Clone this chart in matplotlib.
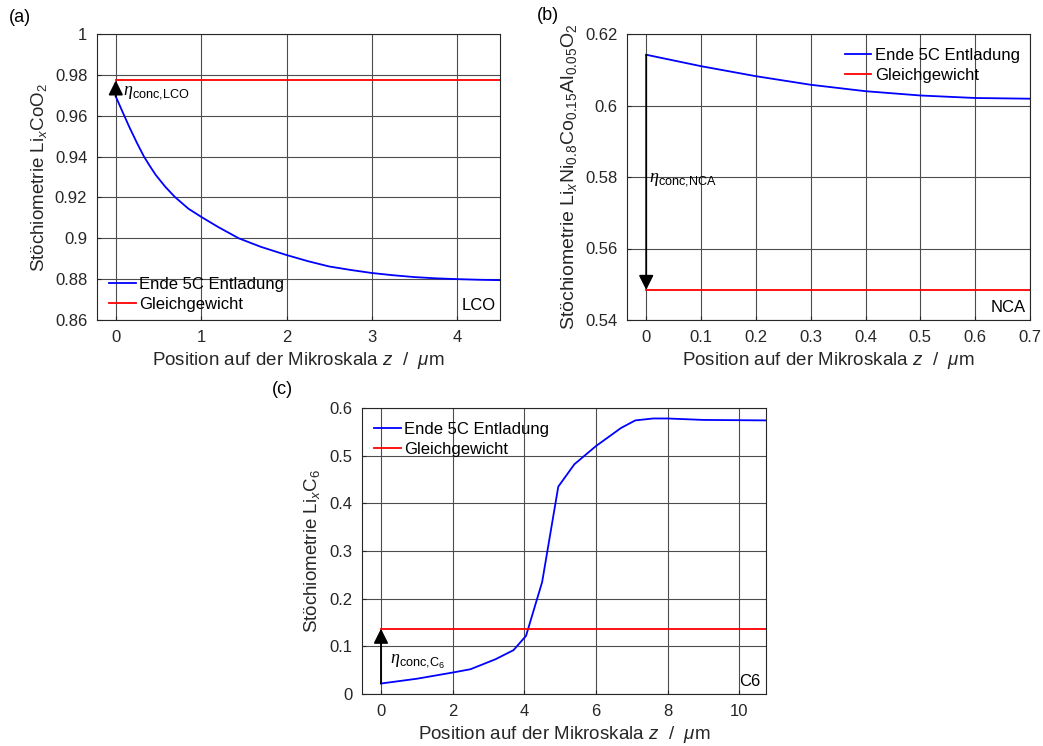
import numpy as np
import matplotlib
matplotlib.use('Agg')
import matplotlib.pyplot as plt

plt.rcParams['font.family'] = ['Liberation Sans', 'DejaVu Sans']
plt.rcParams['font.size'] = 12
plt.rcParams['mathtext.fontset'] = 'custom'
plt.rcParams['mathtext.rm'] = 'Liberation Sans'
plt.rcParams['mathtext.it'] = 'Liberation Sans:italic'
plt.rcParams['mathtext.cal'] = 'Liberation Serif:italic'

# LCO (a)
lco_z = [0, 0.08, 0.156, 0.25, 0.33, 0.4, 0.468, 0.58, 0.69, 0.85, 1.0, 1.2, 1.44, 1.7,
         2.0, 2.25, 2.5, 2.75, 3.0, 3.25, 3.5, 3.75, 4.0, 4.25, 4.5]
lco_x = [0.9694, 0.9618, 0.9547, 0.9465, 0.9400, 0.9353, 0.9310, 0.9252, 0.9203, 0.9145,
         0.9105, 0.9055, 0.9000, 0.8958, 0.8918, 0.8888, 0.8862, 0.8845, 0.8830, 0.8819,
         0.8810, 0.8804, 0.8800, 0.8797, 0.8795]
lco_eq = 0.9773

# NCA (b)
nca_z = [0, 0.1, 0.2, 0.3, 0.4, 0.5, 0.6, 0.7]
nca_x = [0.6142, 0.611, 0.6082, 0.6058, 0.604, 0.6028, 0.6021, 0.6019]
nca_eq = 0.5484

# C6 (c)
c6_z = [0, 1, 2, 2.5, 3.2, 3.7, 4.05, 4.5, 4.95, 5.4, 6.0, 6.7, 7.1, 7.6, 8.0, 9.0, 10.75]
c6_x = [0.022, 0.032, 0.045, 0.052, 0.073, 0.092, 0.122, 0.235, 0.435, 0.482, 0.52, 0.558,
        0.574, 0.578, 0.578, 0.575, 0.574]
c6_eq = 0.137

W, H = 1043, 746
fig = plt.figure(figsize=(W / 100, H / 100), dpi=100)


def make_ax(l, t, r, b):
    return fig.add_axes([l / W, 1 - b / H, (r - l) / W, (b - t) / H])


def style(ax):
    ax.grid(True, color='0.3', lw=0.8)
    ax.set_axisbelow(True)
    ax.tick_params(direction='in', length=3, colors='0.15', labelsize=12, pad=7)
    for s in ax.spines.values():
        s.set_color('0.15')
        s.set_linewidth(0.8)
    ax.set_xlabel(r'Position auf der Mikroskala $z$  /  $\mu$m', color='0.15',
                  fontsize=13.5, labelpad=4)


arrow_kw = dict(arrowstyle='-|>', color='k', lw=1.3, mutation_scale=22, shrinkA=0, shrinkB=0)
leg_kw = dict(frameon=False, handlelength=1.6, handletextpad=0.2, borderaxespad=0.1,
              labelspacing=0.3)

# (a)
ax = make_ax(97, 34, 500, 320)
ax.plot(lco_z, lco_x, color='#0000ff', lw=1.3, label='Ende 5C Entladung')
ax.plot([0, 4.5], [lco_eq, lco_eq], color='#ff0000', lw=1.3, label='Gleichgewicht')
ax.set_xlim(-0.22, 4.5)
ax.set_ylim(0.86, 1.0)
ax.set_xticks([0, 1, 2, 3, 4])
ax.set_yticks([0.86, 0.88, 0.9, 0.92, 0.94, 0.96, 0.98, 1.0])
ax.set_yticklabels(['0.86', '0.88', '0.9', '0.92', '0.94', '0.96', '0.98', '1'])
style(ax)
ax.set_ylabel(r'Stöchiometrie Li$_x$CoO$_2$', color='0.15', fontsize=13.5)
ax.annotate('', xy=(0, lco_eq), xytext=(0, lco_x[0]), arrowprops=arrow_kw)
ax.text(0.09, 0.9705, r'$\mathcal{\eta}_{\rm conc{,}LCO}$', fontsize=13)
ax.text(4.45, 0.8635, 'LCO', ha='right', va='bottom')
ax.legend(loc='lower left', bbox_to_anchor=(0.01, 0.0), **leg_kw)
fig.text(9 / W, 1 - 17 / H, '(a)', fontsize=13, va='center')

# (b)
ax = make_ax(627, 34, 1030, 320)
ax.plot(nca_z, nca_x, color='#0000ff', lw=1.3, label='Ende 5C Entladung')
ax.plot([0, 0.7], [nca_eq, nca_eq], color='#ff0000', lw=1.3, label='Gleichgewicht')
ax.set_xlim(-0.035, 0.7)
ax.set_ylim(0.54, 0.62)
ax.set_xticks([0, 0.1, 0.2, 0.3, 0.4, 0.5, 0.6, 0.7])
ax.set_xticklabels(['0', '0.1', '0.2', '0.3', '0.4', '0.5', '0.6', '0.7'])
ax.set_yticks([0.54, 0.56, 0.58, 0.6, 0.62])
ax.set_yticklabels(['0.54', '0.56', '0.58', '0.6', '0.62'])
style(ax)
ax.set_ylabel(r'Stöchiometrie Li$_x$Ni$_{0.8}$Co$_{0.15}$Al$_{0.05}$O$_2$', color='0.15',
              fontsize=14, labelpad=4)
ax.annotate('', xy=(0, nca_eq), xytext=(0, nca_x[0]), arrowprops=arrow_kw)
ax.text(0.006, 0.5788, r'$\mathcal{\eta}_{\rm conc{,}NCA}$', fontsize=13)
ax.text(0.692, 0.5415, 'NCA', ha='right', va='bottom')
ax.legend(loc='upper right', bbox_to_anchor=(0.995, 0.98), **leg_kw)
fig.text(537 / W, 1 - 15 / H, '(b)', fontsize=13, va='center')

# (c)
ax = make_ax(362, 408, 766, 694)
ax.plot(c6_z, c6_x, color='#0000ff', lw=1.3, label='Ende 5C Entladung')
ax.plot([0, 10.75], [c6_eq, c6_eq], color='#ff0000', lw=1.3, label='Gleichgewicht')
ax.set_xlim(-0.53, 10.75)
ax.set_ylim(0, 0.6)
ax.set_xticks([0, 2, 4, 6, 8, 10])
ax.set_yticks([0, 0.1, 0.2, 0.3, 0.4, 0.5, 0.6])
ax.set_yticklabels(['0', '0.1', '0.2', '0.3', '0.4', '0.5', '0.6'])
style(ax)
ax.set_ylabel(r'Stöchiometrie Li$_x$C$_6$', color='0.15', fontsize=13.5, labelpad=5)
ax.annotate('', xy=(0, c6_eq), xytext=(0, c6_x[0]), arrowprops=arrow_kw)
ax.text(0.25, 0.063, r'$\mathcal{\eta}_{\rm conc{,}C_6}$', fontsize=13)
ax.text(10.6, 0.01, 'C6', ha='right', va='bottom')
ax.legend(loc='upper left', bbox_to_anchor=(0.01, 0.98), **leg_kw)
fig.text(272 / W, 1 - 390 / H, '(c)', fontsize=13, va='center')

fig.savefig('out.png', dpi=100)
